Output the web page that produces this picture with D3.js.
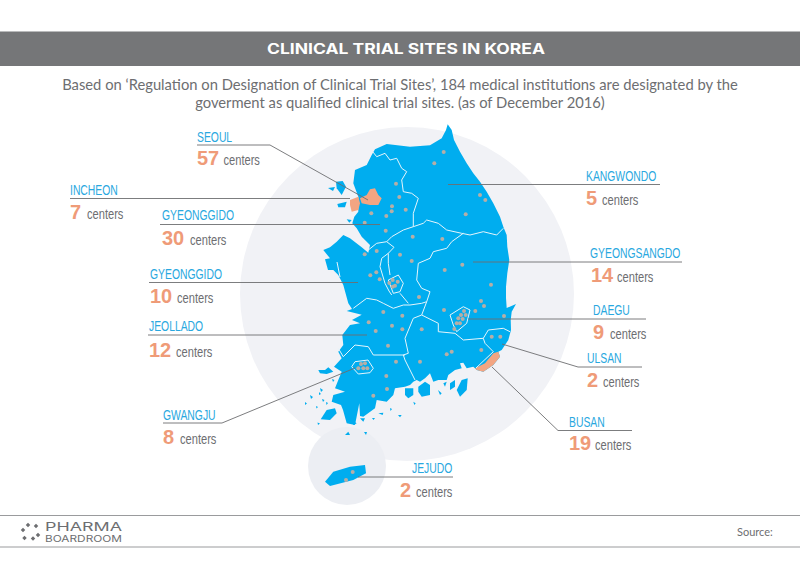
<!DOCTYPE html>
<html lang="en">
<head>
<meta charset="utf-8">
<title>Clinical trial sites in Korea</title>
<script src="https://d3js.org/d3.v7.min.js"></script>
<style>
html, body { margin: 0; background: #fff; }
svg { display: block; }
text { font-family: "Lato", sans-serif; }
.name { fill: #29a8e0; font-family: "Liberation Sans", sans-serif; font-size: 14px; }
.count { fill: #ef9b78; font-family: "Liberation Sans", sans-serif; font-weight: bold; font-size: 20px; }
.unit { fill: #6d6e71; font-family: "Liberation Sans", sans-serif; font-size: 15px; }
</style>
</head>
<body>
<script>
var regions = ["SEOUL", "INCHEON", "GYEONGGIDO", "GYEONGGIDO", "JEOLLADO", "GWANGJU", "JEJUDO", "KANGWONDO", "GYEONGSANGDO", "DAEGU", "ULSAN", "BUSAN"];
var counts = [57, 7, 30, 10, 12, 8, 2, 5, 14, 9, 2, 19];

// map grid units
var mainland = [[447.7,124.3],[451.7,130],[454,140],[460,151.7],[466.7,163.3],[473.3,173.3],[480,181.7],[486.7,191.7],[493.3,203.3],[500,216.7],[503.3,226.7],[506.7,235],[507.3,246.7],[509.3,260],[507.3,273.3],[506,286.7],[506,298],[506.7,308],[516,304],[511.7,311.7],[510.7,320],[511,330],[508.3,340],[501.7,350],[498.3,351.7],[500,356.7],[493.3,365],[483.3,371.7],[476.7,370],[475,368.3],[473.3,366.7],[466.7,368.3],[463.3,362.7],[460,363.3],[461.7,368.3],[455,370],[448.3,375],[446.7,380],[438.3,380],[433.3,381.7],[430,373.3],[425,378.3],[420,381.7],[416.7,380],[413.3,381.7],[410,385],[405,386.7],[395,388.3],[393.3,395],[386.7,401.7],[376.7,400],[375,408.3],[363.3,416.7],[360,416],[359.3,403.3],[355,425],[346.7,423.3],[343,410],[341,405],[331.7,401.7],[333.3,395],[345,391.7],[335,388.3],[338.3,380],[341.7,371.7],[334,366.7],[341.7,358.3],[338.3,351.7],[343.3,345],[342.3,335],[350,325],[360,323.3],[352,320],[361.7,314.7],[346.7,311],[352,309],[348.3,303.3],[343.3,285],[338.3,275],[333.3,270],[328,270],[325,259.3],[330,258.3],[323.3,250],[330,247.3],[336.7,241.7],[343.3,235],[350,238.3],[361.7,247.3],[368.3,252.7],[370,245],[361.7,236.7],[356.7,228.3],[352.3,223.3],[354.3,216.7],[358.3,211.7],[358.3,196.7],[353.3,183.3],[355,170],[366.7,165],[371.7,155],[375,149.3],[386.7,144],[410,146.7],[430,145.3],[441.7,138.3],[446,130]];
var islands = [
  [[336,181.7],[342.7,181],[346,186.7],[341.7,195],[336.7,188.3]],
  [[337.3,204],[346.7,201.7],[345,207.3],[338.3,207.3]],
  [[346.7,219.3],[351.7,220],[349.3,222.7]],
  [[328,188],[335,187],[333,191]],
  [[320.7,419.3],[326.7,410],[335,408.3],[336.7,413.3],[330,420]],
  [[318.3,370],[325,370],[328.3,367.3],[333.3,371.7],[326.7,374],[320,373.3]],
  [[310,395],[313,397],[311,399]],
  [[320,388],[323,390],[321,392]],
  [[351.7,420],[356.7,423.3],[353.3,425]],
  [[360,418.3],[365,418.3],[363.3,421.7]],
  [[378.3,413.3],[383.3,412.7],[382.7,415]],
  [[398,415],[401.7,415],[400,417.3]],
  [[461.7,380],[467.7,378.3],[466.7,390],[460,396.7],[456.7,390]],
  [[450,383.3],[455,380],[455,386.7],[450,390]],
  [[443.3,383.3],[446.7,381.7],[445,386.7]],
  [[418.3,386.7],[425,381.7],[430,385],[430,395],[421.7,396.7],[418.3,391.7]],
  [[405,388.3],[413.3,388.3],[413.3,395],[408.3,398.3],[405,395]],
  [[413.3,401.7],[415.7,403.3],[414.3,405]],
  [[438,390],[441.7,393.3],[440,395]],
  [[345,435],[348.3,431.7],[350,435]],
  [[364,432],[367,432],[366,435]],
  [[319,392],[321,394],[319,395]],
  [[322,399],[324.5,400],[323,402]],
  [[316,406],[318,407],[316.5,408.5]],
  [[332,379],[334.5,380],[333,382]],
  [[305,402],[307,403.5],[305,405]],
  [[317.5,422.5],[320,423.5],[318,425]],
  [[326,402],[328,403],[326.5,405]],
  [[372,418],[375,418],[373.5,420]],
  [[390,408],[392,409],[390.5,411]]
];
var jeju = [[325,481.7],[333.3,471.7],[350,466.7],[365,465],[366,473.3],[353.3,480],[330,486]];
var orangeAreas = [
  [[350,200],[358.3,196.7],[360,203.3],[358.3,210],[351.7,211.7],[350,205]],
  [[360,198.3],[366.7,195],[370,189.3],[375,188.3],[378.3,195],[381.7,198.3],[378.3,205],[370,205],[361.7,203.3]],
  [[475,368.3],[485,363.3],[493.3,353.3],[498.3,351.7],[500,356.7],[493.3,365],[483.3,371.7],[476.7,370]]
];
var borders = [
  [[372.7,151.7],[376.7,156.7],[385,153.3],[390,160],[396.7,158.3],[401.7,168.3],[406.7,171.7],[401.7,180],[403.3,191.7],[411.7,193.3],[418.3,198.3],[413.3,213.3],[413.3,226.7],[403.3,230],[391.7,236.7],[386.7,241.7],[376.7,243.3],[368.3,250]],
  [[413.3,226.7],[423.3,223.3],[426.7,220],[438.3,223.3],[446.7,230],[461.7,233.3],[470,235],[483.3,231.7],[496.7,235],[503.3,228.3]],
  [[463.3,233.3],[451.7,241.7],[446.7,248.3],[433.3,251.7],[430,258.3],[418.3,263.3],[416.7,280],[421.7,288.3],[430,291.7],[426.7,301.7],[421.7,315]],
  [[386.7,241.7],[394,247.3],[388.3,253.3],[388.3,263.3],[390,275]],
  [[388.3,253.3],[381.7,258.3],[380,266.7],[385,283.3],[389,291],[391.7,295]],
  [[400,293.3],[408.3,303.3]],
  [[353.3,308.3],[366.7,298.3],[376.7,300],[383.3,303.3],[393.3,308.3],[403.3,305],[410,305],[421.7,303.3],[426.7,301.7]],
  [[421.7,315],[413.3,318.3],[405,338.3],[408.3,353.3],[403.3,355],[405,360],[415,380]],
  [[338.3,348.3],[343.3,356.7],[355,345],[368.3,346.7],[373.3,355],[405,355]],
  [[421.7,315],[438.3,323.3],[438.3,331.7],[455,333.3],[463.3,340],[483.3,338.3],[485,343.3],[493.3,351.7],[476,368]],
  [[483.3,338.3],[488.3,330],[503.3,328.3],[510,331.7]],
  [[450,315],[463.3,306.7],[470,310],[466.7,323.3],[456.7,331.7],[453.3,325],[450,315]],
  [[351.7,366.7],[355,361.7],[368,360],[373.3,368.3],[370,372.7],[358.3,374],[351.7,366.7]],
  [[388.3,280],[398.3,275],[403.3,283.3],[400,291.7],[393.3,293.3],[388.3,280]],
  [[337,262],[340,277]]
];
var sites = [[443.7,152],[434.3,163.3],[396,183.7],[399.3,197],[392,206.3],[391.7,211.3],[405.7,209.7],[386.3,216],[371.3,213.3],[364.7,222.7],[385.7,230.7],[480,195],[485.3,200],[465.7,214.3],[412.7,236.7],[442.3,239],[364.7,254.3],[376.7,251],[400,254.7],[411.7,261],[370.3,275.3],[376.3,272.3],[379.7,279.3],[389.3,283],[392.7,280],[397.7,281.7],[395,285.7],[392.7,286.7],[444.7,270],[462.3,264.7],[491,284.7],[481,301],[484,306],[419,297],[444,310],[475.3,311],[504,316],[491.7,336.7],[500.3,336.7],[481.3,350],[451.7,351.7],[446.7,354.3],[420,361.7],[421.7,329.3],[402.3,315.7],[383.3,312],[368.7,322.3],[375.7,331],[392,325.7],[402.3,329.3],[388,345.7],[396,361.7],[386.3,376],[387,389],[373.3,395.7],[464,311],[461,315],[465.7,315],[458.3,318.3],[462.7,319],[456.7,323.3],[460,323.3],[454.3,329],[361,364],[365,363.3],[358.3,368.3],[363.3,368.3],[367.3,368.3],[352.7,472],[346,480]];

var W = 800, H = 579;
var x = d3.scaleLinear().domain([0, 800]).range([0, W]);
var y = d3.scaleLinear().domain([0, 579]).range([0, H]);
var line = d3.line().x(function(d) { return x(d[0]); }).y(function(d) { return y(d[1]); });

var svg = d3.select("body").append("svg").attr("width", W).attr("height", H);

/* title band and subtitle */
svg.append("rect").attr("x", 0).attr("y", 31.5).attr("width", W).attr("height", 34.5).attr("fill", "#757678");
svg.append("text").attr("x", 267).attr("y", 54)
  .attr("fill", "#fff").attr("textLength", 278).attr("lengthAdjust", "spacingAndGlyphs")
  .style("font-family", "Inter, sans-serif").style("font-weight", 700).style("font-size", "14px")
  .text("CLINICAL TRIAL SITES IN KOREA");
svg.selectAll(".sub")
  .data(["Based on ‘Regulation on Designation of Clinical Trial Sites’, 184 medical institutions are designated by the",
         "goverment as qualified clinical trial sites. (as of December 2016)"])
  .enter().append("text").attr("class", "sub")
  .attr("x", 400).attr("y", function(d, i) { return 90 + i * 17.5; })
  .attr("text-anchor", "middle").attr("fill", "#6d6e71").style("font-size", "14.75px")
  .text(function(d) { return d; });

/* pale discs behind the map */
svg.append("circle").attr("cx", x(407)).attr("cy", y(294)).attr("r", 167).attr("fill", "#f1f2f6");
svg.append("circle").attr("cx", x(347)).attr("cy", y(466)).attr("r", 39).attr("fill", "#eceef3");

/* land */
svg.append("path").attr("d", line(mainland) + "Z").attr("fill", "#00adef");
svg.selectAll(".island").data(islands.concat([jeju])).enter().append("path").attr("class", "island")
  .attr("d", function(d) { return line(d) + "Z"; }).attr("fill", "#00adef");
svg.selectAll(".orange").data(orangeAreas).enter().append("path").attr("class", "orange")
  .attr("d", function(d) { return line(d) + "Z"; }).attr("fill", "#f3a582");
svg.selectAll(".border").data(borders).enter().append("path").attr("class", "border")
  .attr("d", line).attr("fill", "none").attr("stroke", "#e6f5fc").attr("stroke-width", 1);

/* site dots */
svg.selectAll(".site").data(sites).enter().append("circle").attr("class", "site")
  .attr("cx", function(d) { return x(d[0]); }).attr("cy", function(d) { return y(d[1]); })
  .attr("r", 2).attr("fill", "#b7aea6");

/* labels: text x, name baseline, count x and baseline, "centers" x, leader points */
var labelX = [197, 70, 162, 150, 149, 163, 412, 586, 590, 593, 587, 569];
var nameY = [142, 195, 220, 279, 331, 420, 473, 181, 257.5, 315, 363, 427];
var countX = [197, 70, 162, 150, 149, 163, 400, 586, 591, 593, 587, 569];
var countY = [165, 219, 244.5, 303, 357, 444, 497, 205, 282, 339, 387, 450];
var unitX = [223.5, 87, 190, 177, 176, 180, 416, 602, 617, 610, 603, 595];
var leaders = [
  [[197,145],[270,145],[368,200]],
  [[70,198.5],[350,198.5]],
  [[160,224.5],[380,224.5]],
  [[149,282.5],[358,282.5]],
  [[148,335],[367,335]],
  [[163,423],[222,423],[355,368]],
  [[358,477],[453,477]],
  [[448,184.5],[660,184.5]],
  [[473,262],[682,262]],
  [[468,319],[646,319]],
  [[642,367],[578,367],[502,344]],
  [[632,430.5],[558,430.5],[492,367]]
];

function narrow(sel) {
  sel.attr("textLength", function() { return this.getComputedTextLength() * 0.74; })
    .attr("lengthAdjust", "spacingAndGlyphs");
}

var lab = svg.selectAll(".label").data(regions).enter().append("g").attr("class", "label");
lab.append("path").attr("d", function(d, i) { return line(leaders[i]); })
  .attr("fill", "none").attr("stroke", "#6d6e71").attr("stroke-width", 0.9);
lab.append("text").attr("class", "name").attr("x", function(d, i) { return labelX[i]; })
  .attr("y", function(d, i) { return nameY[i]; }).text(function(d) { return d; }).call(narrow);
lab.append("text").attr("class", "count").attr("x", function(d, i) { return countX[i]; })
  .attr("y", function(d, i) { return countY[i]; }).text(function(d, i) { return counts[i]; });
lab.append("text").attr("class", "unit").attr("x", function(d, i) { return unitX[i]; })
  .attr("y", function(d, i) { return countY[i]; }).text("centers").call(narrow);

/* footer */
svg.selectAll(".rule").data([515.5, 547]).enter().append("line").attr("class", "rule")
  .attr("x1", 0).attr("x2", W).attr("y1", function(d) { return d; }).attr("y2", function(d) { return d; })
  .attr("stroke", "#9a9b9d").attr("stroke-width", 1);
var logoDots = [[23,530],[28,525],[36,526],[24.5,538],[33,538.5],[38,535]];
svg.selectAll(".logo").data(logoDots).enter().append("rect").attr("class", "logo")
  .attr("x", function(d) { return d[0] - 1.6; }).attr("y", function(d) { return d[1] - 1.6; })
  .attr("width", 3.2).attr("height", 3.2).attr("fill", "#6d6e71")
  .attr("transform", function(d) { return "rotate(45 " + d[0] + " " + d[1] + ")"; });
svg.append("text").attr("x", 45).attr("y", 531).attr("fill", "#6d6e71").attr("textLength", 77).attr("lengthAdjust", "spacingAndGlyphs")
  .style("font-family", "Inter, sans-serif").style("font-size", "12px").text("PHARMA");
svg.append("text").attr("x", 45).attr("y", 542).attr("fill", "#6d6e71").attr("textLength", 77).attr("lengthAdjust", "spacingAndGlyphs")
  .style("font-family", "Inter, sans-serif").style("font-size", "9.5px").text("BOARDROOM");
svg.append("text").attr("x", 737).attr("y", 535.5).attr("fill", "#6d6e71").style("font-size", "11px").text("Source:");
</script>
</body>
</html>
